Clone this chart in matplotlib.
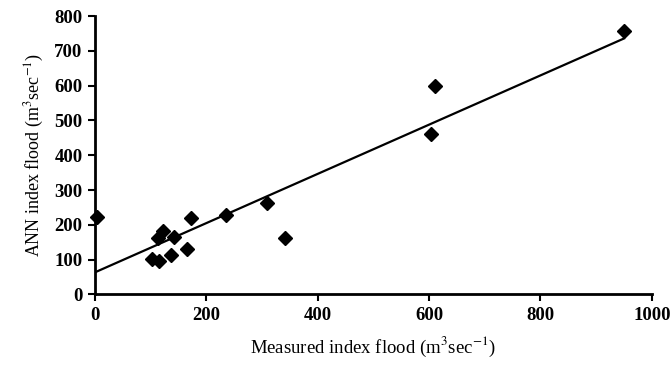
import numpy as np
import matplotlib.pyplot as plt

plt.rcParams["font.family"] = ["Liberation Serif", "DejaVu Serif"]
plt.rcParams["mathtext.fontset"] = "stix"

# 實測與 ANN 指標洪峰（m3/s）
measured = [3, 102, 115, 113, 122, 141, 136, 166, 172, 235, 308, 341, 603, 610, 950]
ann = [224, 101, 96, 162, 182, 166, 114, 132, 221, 228, 262, 163, 461, 600, 756]

x_ticks = [0, 200, 400, 600, 800, 1000]
y_ticks = [0, 100, 200, 300, 400, 500, 600, 700, 800]

measured = np.array(measured, dtype=float)
ann = np.array(ann, dtype=float)
slope, intercept = np.polyfit(measured, ann, 1)

fig = plt.figure(figsize=(6.72, 3.66), dpi=100, facecolor="white")
ax = fig.add_axes([0.1414, 0.1954, 0.8286, 0.7606])

ax.plot(measured, ann, linestyle="none", marker="D", markersize=7.5,
        color="black", clip_on=False, zorder=3)
xl = np.array([0, measured.max()])
ax.plot(xl, intercept + slope * xl, color="black", linewidth=1.6, zorder=2)

ax.set_xlim(0, 1000)
ax.set_ylim(0, 800)
ax.set_xticks(x_ticks)
ax.set_yticks(y_ticks)
for s in ("top", "right"):
    ax.spines[s].set_visible(False)
for s in ("left", "bottom"):
    ax.spines[s].set_linewidth(2)
ax.tick_params(direction="out", length=5, width=1.5, labelsize=13.5, pad=4)
for lab in ax.get_xticklabels() + ax.get_yticklabels():
    lab.set_fontweight("bold")

ax.set_xlabel(r"Measured index flood (m$^3$sec$^{-1}$)", fontsize=13.5, labelpad=8)
ax.set_ylabel(r"ANN index flood (m$^3$sec$^{-1}$)", fontsize=13, labelpad=6)

fig.savefig("out.png", dpi=100, facecolor="white")
